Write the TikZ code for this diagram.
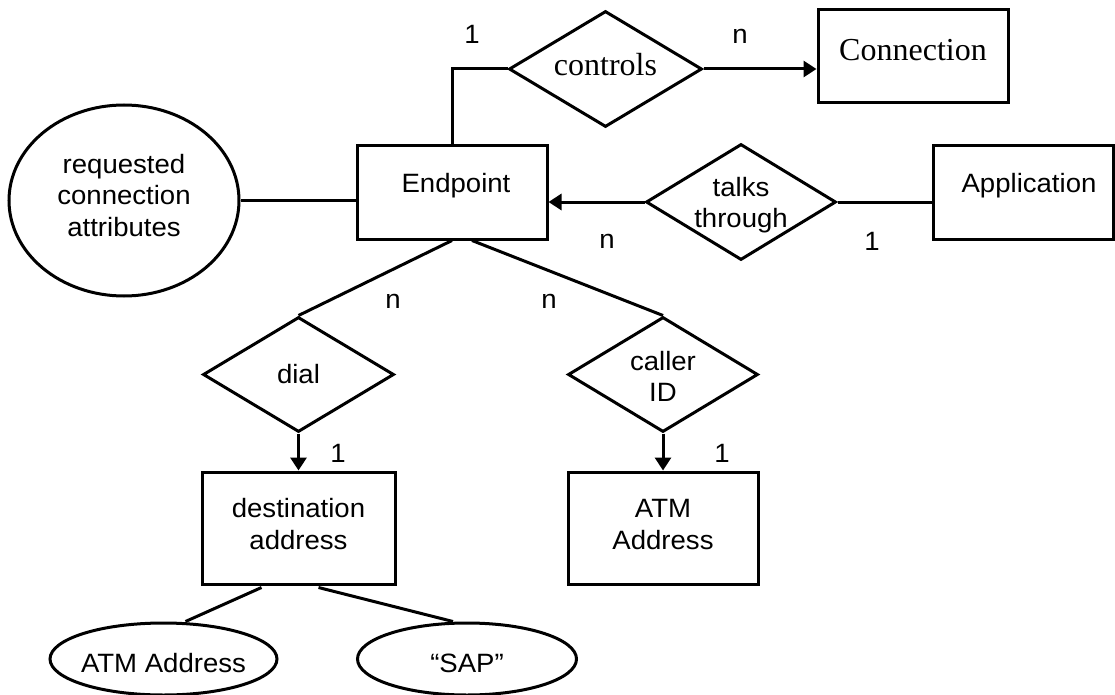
\documentclass[tikz,border=0pt]{standalone}
\usepackage{fontspec}
\setmainfont{Liberation Sans}[FakeStretch=1.04]
\newfontfamily\timesfont{Liberation Serif}
\usetikzlibrary{shapes.geometric,arrows.meta}

\begin{document}
\begin{tikzpicture}[x=1pt,y=-1pt,
  every node/.style={font=\fontsize{26.5}{31.5}\selectfont, inner sep=0pt},
  ln/.style={line width=3pt},
  arr/.style={line width=3pt, -{Triangle[length=13pt,width=16pt]}},
  entity/.style={draw, rectangle, line width=3pt, line join=miter,
    minimum width=190pt, minimum height=93pt},
  onebox/.style={entity, text height=18pt, text depth=17pt},
  twobox/.style={entity, align=center, minimum width=193pt, minimum height=112pt,
    text height=42pt, text depth=0pt},
  relation/.style={draw, diamond, aspect=1.68, line width=3pt,
    minimum width=193pt, minimum height=116pt},
  attribute/.style={draw, ellipse, line width=3pt},
  card/.style={anchor=base}
]
\useasboundingbox (0,0) rectangle (1115,695);

% entities
\node[onebox] (ep) at (452,192.5) {\hspace*{8pt}Endpoint};
\node[onebox, minimum width=180pt] (app) at (1023,192.5) {\hspace*{12pt}Application};
\node[entity, font=\timesfont\fontsize{32}{36}\selectfont,
      text height=22pt, text depth=13pt] (conn) at (913,56.5) {Connection};
\node[twobox] (dest) at (298.5,528) {destination\\address};
\node[twobox, minimum width=190pt] (atmbox) at (663,528) {ATM\\Address};

% relationships
\node[relation, font=\timesfont\fontsize{32}{36}\selectfont,
      text height=22pt, text depth=8pt] (ctrl) at (605.5,69) {controls};
\node[relation, align=center, minimum width=190pt,
      text height=51pt, text depth=0pt] (talks) at (741,202) {talks\\through};
\node[relation, minimum width=191pt, minimum height=115pt] (dial) at (298.5,374.5) {dial};
\node[relation, align=center, minimum width=190pt, minimum height=115pt,
      text height=54pt, text depth=0pt] (caller) at (663,374.5) {caller\\ID};

% attributes
\node[attribute, align=center, minimum width=230pt, minimum height=191pt,
      text height=71pt, text depth=0pt] (attr) at (124,200.5)
      {requested\\connection\\attributes};
\node[attribute, inner xsep=-12pt, minimum width=227pt, minimum height=72pt,
      text height=26pt, text depth=0pt] (atmE) at (163.5,659) {ATM Address};
\node[attribute, inner xsep=-12pt, minimum width=219pt, minimum height=72pt,
      text height=26pt, text depth=0pt] (sap) at (467,659) {“SAP”};

% connectors
\draw[ln] (attr.east) -- (attr.east -| ep.west);
\draw[ln] (ep.north) |- (ctrl.west);
\draw[arr] (ctrl.east) -- (ctrl.east -| conn.west);
\draw[arr] (talks.west) -- (talks.west -| ep.east);
\draw[ln] (talks.east) -- (talks.east -| app.west);
\draw[ln] (ep.south) -- (dial.north);
\draw[ln] ([xshift=20pt]ep.south) -- (caller.north);
\draw[arr] (dial.south) -- (dest.north);
\draw[arr] (caller.south) -- (atmbox.north);
\draw[ln] ([xshift=-37pt,yshift=-2pt]dest.south) -- ([xshift=22pt]atmE.north);
\draw[ln] ([xshift=20pt,yshift=-2pt]dest.south) -- ([xshift=-14pt]sap.north);

% cardinalities
\node[card] (c1) at (472,44) {1};
\node[card] (c2) at (740,44) {n};
\node[card] (c3) at (607,248) {n};
\node[card] (c4) at (872,250) {1};
\node[card] (c5) at (393,308) {n};
\node[card] (c6) at (549,308) {n};
\node[card] (c7) at (338,462) {1};
\node[card] (c8) at (722,462) {1};
\end{tikzpicture}
\end{document}
